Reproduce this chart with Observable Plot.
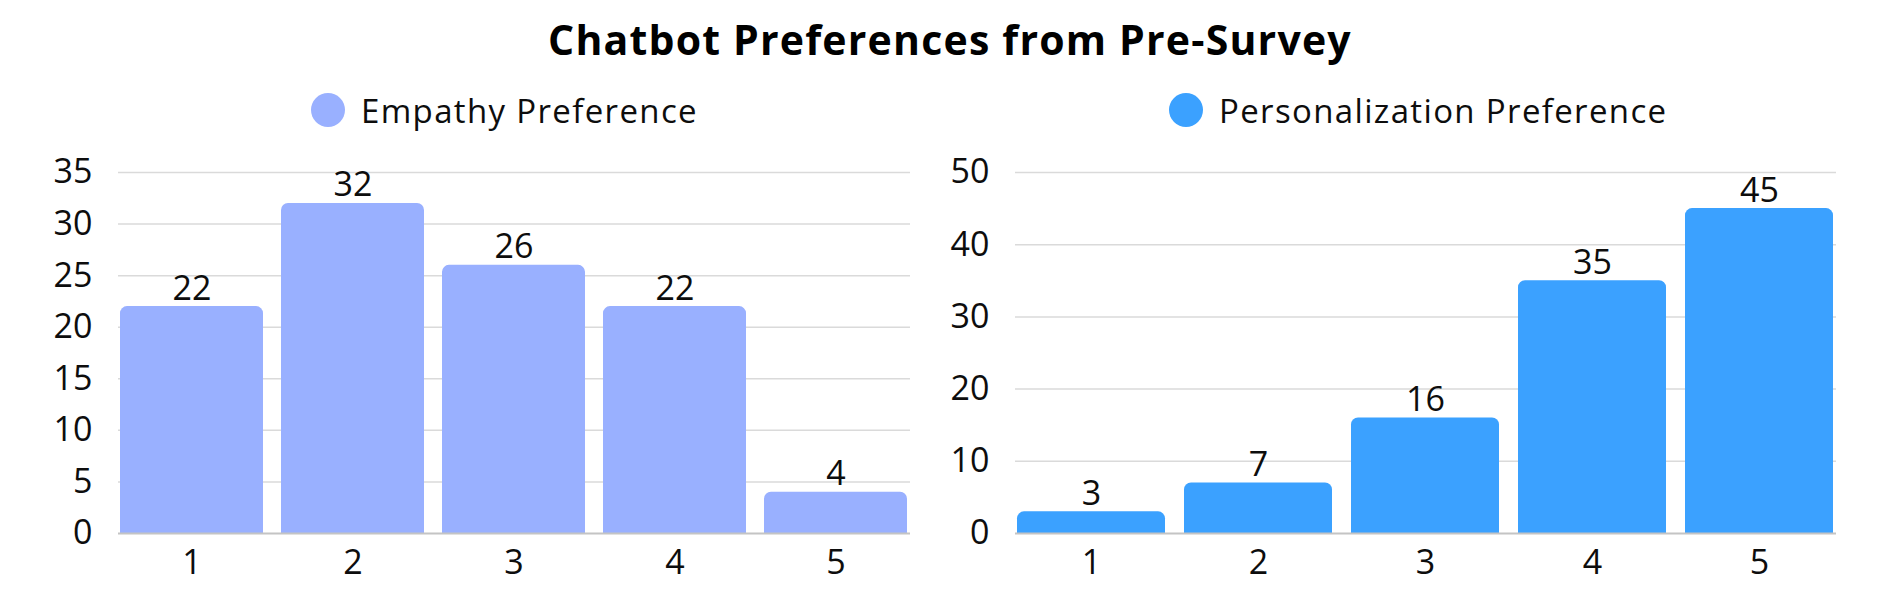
<!DOCTYPE html>
<html>
<head>
<meta charset="utf-8">
<script src="https://cdn.jsdelivr.net/npm/d3@7"></script>
<script src="https://cdn.jsdelivr.net/npm/@observablehq/plot@0.6"></script>
<style>
  html, body { margin: 0; padding: 0; background: #fff; }
  #root { position: relative; width: 1900px; height: 600px; font-family: "Open Sans", sans-serif; color: #0d0d0d; overflow: hidden; }
  #title { position: absolute; left: 0; width: 1900px; top: 11px; text-align: center; font-weight: 700; font-size: 41px; letter-spacing: 1.2px; line-height: 56px; color: #000; }
  .legend { position: absolute; top: 90px; height: 40px; display: flex; align-items: center; font-size: 33px; letter-spacing: 1.35px; }
  .legend .dot { width: 34px; height: 34px; border-radius: 50%; margin-right: 16px; flex: none; }
  .chart { position: absolute; top: 140px; }
</style>
</head>
<body>
<div id="root">
  <div id="title">Chatbot Preferences from Pre-Survey</div>
  <div class="legend" id="legL"></div>
  <div class="legend" id="legR"></div>
  <div class="chart" id="chartL" style="left:0px"></div>
  <div class="chart" id="chartR" style="left:950px"></div>
</div>
<script>
const categories = ["1", "2", "3", "4", "5"];
const empathyValues = [22, 32, 26, 22, 4];
const personalizationValues = [3, 7, 16, 35, 45];
const empathyTicks = [0, 5, 10, 15, 20, 25, 30, 35];
const personalizationTicks = [0, 10, 20, 30, 40, 50];
const seriesNames = ["Empathy Preference", "Personalization Preference"];
const colors = ["#99B0FF", "#3BA1FF"];

function makeChart(values, ticks, color, marginLeft, marginRight) {
  const data = categories.map((c, i) => ({cat: c, value: values[i]}));
  return Plot.plot({
    width: 950,
    height: 460,
    marginTop: 32,
    marginBottom: 67,
    marginLeft,
    marginRight,
    style: {fontFamily: "Open Sans, sans-serif", fontSize: "34px", color: "#0d0d0d", background: "transparent"},
    x: {type: "band", domain: categories, paddingInner: 0.111, paddingOuter: 0, label: null},
    y: {domain: [ticks[0], ticks[ticks.length - 1]], label: null},
    marks: [
      Plot.ruleY(ticks.slice(1), {stroke: "#dadada", strokeWidth: 1.5}),
      Plot.barY(data, {x: "cat", y: "value", fill: color, ry1: 7}),
      Plot.ruleY([0], {stroke: "#c4c4c4", strokeWidth: 2}),
      Plot.text(data, {x: "cat", y: "value", text: d => String(d.value), lineAnchor: "bottom", dy: -7, fontSize: 34, fill: "#0d0d0d"}),
      Plot.axisY({ticks, tickSize: 0, tickPadding: 26, tickFormat: d => String(d), fontSize: 34, label: null}),
      Plot.axisX({tickSize: 0, tickPadding: 16, fontSize: 34, label: null})
    ]
  });
}

document.getElementById("chartL").appendChild(makeChart(empathyValues, empathyTicks, colors[0], 118, 40));
document.getElementById("chartR").appendChild(makeChart(personalizationValues, personalizationTicks, colors[1], 65, 64));

function legend(el, name, color, left) {
  el.style.left = left + "px";
  const dot = document.createElement("div");
  dot.className = "dot";
  dot.style.background = color;
  const t = document.createElement("span");
  t.textContent = name;
  el.appendChild(dot);
  el.appendChild(t);
}
legend(document.getElementById("legL"), seriesNames[0], colors[0], 311);
legend(document.getElementById("legR"), seriesNames[1], colors[1], 1169);
</script>
</body>
</html>
